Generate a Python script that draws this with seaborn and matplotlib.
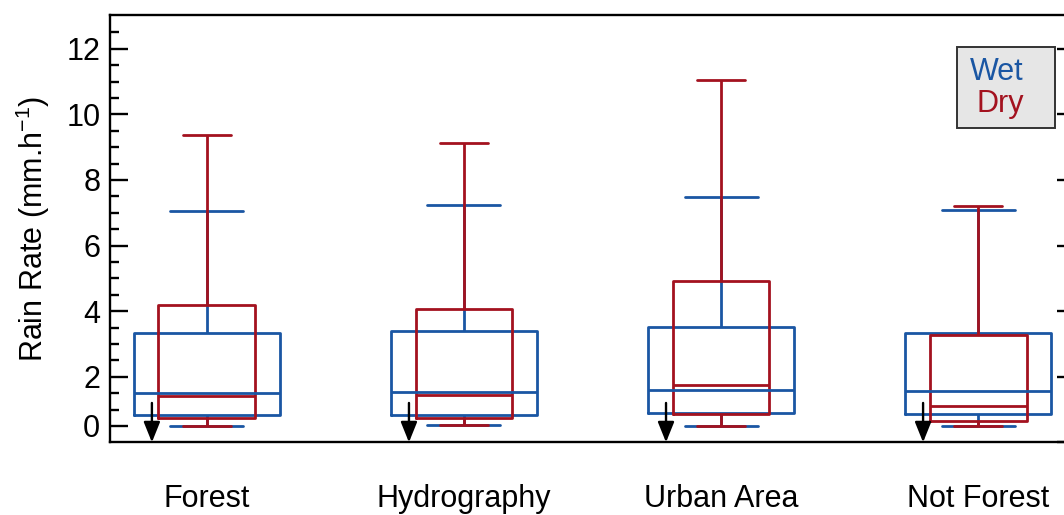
import numpy as np
import pandas as pd
import matplotlib
matplotlib.use("Agg")
import matplotlib.pyplot as plt
from matplotlib.patches import Rectangle
import seaborn as sns

# ---------------- data ----------------
categories = ["Forest", "Hydrography", "Urban Area", "Not Forest"]

wet_min = [0.51, 0.52, 0.51, 0.51]
wet_q1 = [0.83, 0.84, 0.90, 0.85]
wet_med = [1.51, 1.54, 1.59, 1.56]
wet_q3 = [3.34, 3.39, 3.52, 3.34]
wet_max = [7.06, 7.23, 7.47, 7.08]

dry_min = [0.51, 0.52, 0.51, 0.51]
dry_q1 = [0.73, 0.75, 0.86, 0.66]
dry_med = [1.42, 1.43, 1.75, 1.11]
dry_q3 = [4.19, 4.06, 4.93, 3.27]
dry_max = [9.37, 9.13, 11.05, 7.20]

arrow_top = [1.2, 1.2, 1.2, 1.2]

ytick_pos = [0.5, 2, 4, 6, 8, 10, 12]
ytick_labels = ["0", "2", "4", "6", "8", "10", "12"]

BLUE = "#1a56a3"
RED = "#a3121f"


def five_point_frame(mins, q1s, meds, q3s, maxs):
    rows = []
    for cat, a, b, c, d, e in zip(categories, mins, q1s, meds, q3s, maxs):
        for v in (a, b, c, d, e):
            rows.append({"cat": cat, "val": v})
    return pd.DataFrame(rows)


wet_df = five_point_frame(wet_min, wet_q1, wet_med, wet_q3, wet_max)
dry_df = five_point_frame(dry_min, dry_q1, dry_med, dry_q3, dry_max)

# ---------------- style ----------------
sns.set_style("white")
plt.rcParams["font.family"] = ["Liberation Sans", "DejaVu Sans"]
plt.rcParams["mathtext.fontset"] = "custom"
plt.rcParams["mathtext.rm"] = "Liberation Sans"
plt.rcParams["mathtext.default"] = "regular"
for k in ["text.color", "axes.labelcolor", "xtick.color", "ytick.color", "axes.edgecolor"]:
    plt.rcParams[k] = "black"

fig = plt.figure(figsize=(10.64, 5.15), dpi=100)
ax = fig.add_axes([110 / 1064, (515 - 442.3) / 515, (1075 - 110) / 1064, (442.3 - 15) / 515])

LW = 2.0
sns.boxplot(data=wet_df, x="cat", y="val", order=categories, fill=False,
            color=BLUE, linecolor=BLUE, width=0.568, whis=(0, 100),
            linewidth=LW, showfliers=False, ax=ax)
sns.boxplot(data=dry_df, x="cat", y="val", order=categories, fill=False,
            color=RED, linecolor=RED, width=0.377, whis=(0, 100),
            linewidth=LW, showfliers=False, ax=ax)

# arrows
for i, top in enumerate(arrow_top):
    ax.annotate("", xy=(i - 0.214, 0), xytext=(i - 0.214, top),
                arrowprops=dict(arrowstyle="-|>,head_length=0.62,head_width=0.25",
                                color="black", lw=1.7, shrinkA=0, shrinkB=0,
                                mutation_scale=20),
                annotation_clip=False)

ax.set_xlim(-0.377, 3.377)
ax.set_ylim(0, 13.03)
ax.set_xlabel("")
ax.set_ylabel("Rain Rate (mm.h$^{-1}$)", fontsize=22, color="black")
ax.yaxis.set_label_coords((52 - 110) / 965, 0.5)

ax.set_yticks(ytick_pos)
ax.set_yticklabels(ytick_labels)
minor = [v for v in np.arange(1.0, 12.51, 0.5) if v not in ytick_pos]
ax.set_yticks(minor, minor=True)
ax.tick_params(axis="y", which="major", direction="in", length=13, width=1.7,
               labelsize=22, pad=7, colors="black")
ax.tick_params(axis="y", which="minor", direction="in", length=6.5, width=1.7,
               colors="black")
ax.tick_params(axis="x", which="both", length=0, labelsize=22, pad=30,
               colors="black")

for s in ax.spines.values():
    s.set_color("black")
    s.set_linewidth(1.7)

# mirrored right ticks
ax2 = ax.twinx()
ax2.set_ylim(ax.get_ylim())
ax2.set_yticks([0, 2, 4, 6, 8, 10, 12])
ax2.tick_params(axis="y", direction="in", length=13, width=1.7, labelright=False,
                colors="black")
for s in ax2.spines.values():
    s.set_visible(False)

# legend box
fig.patches.append(Rectangle((957 / 1064, (515 - 128) / 515), 98 / 1064, 81 / 515,
                             transform=fig.transFigure, facecolor="#e6e6e6",
                             edgecolor="#333333", lw=1.4, zorder=5))
fig.text(997 / 1064, (515 - 80) / 515, "Wet", color=BLUE, fontsize=22,
         ha="center", va="baseline", zorder=6)
fig.text(1000 / 1064, (515 - 111.7) / 515, "Dry", color=RED, fontsize=22,
         ha="center", va="baseline", zorder=6)

fig.savefig("out.png", dpi=100)
